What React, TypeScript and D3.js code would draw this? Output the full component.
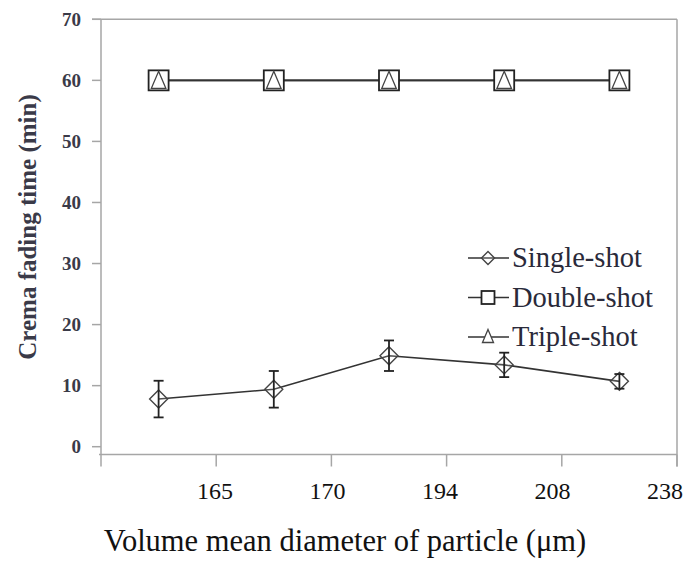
import React, { useEffect, useRef } from 'react';
import * as d3 from 'd3';

// particle size classes (µm)
const categories = ['165', '170', '194', '208', '238'];
const singleShot = [7.8, 9.4, 14.9, 13.4, 10.7];
const singleErr = [3.0, 3.0, 2.5, 2.0, 1.2];
const doubleShot = [60, 60, 60, 60, 60];
const tripleShot = [60, 60, 60, 60, 60];
const yTicks = [0, 10, 20, 30, 40, 50, 60, 70];
const legendItems = ['Single-shot', 'Double-shot', 'Triple-shot'];

const W = 694;
const H = 585;
const SERIF = '"Liberation Serif", "Times New Roman", serif';

const App = () => {
    const ref = useRef<SVGSVGElement>(null);

    useEffect(() => {
        const svg = d3.select(ref.current);
        svg.selectAll('*').remove();

        const left = 101, right = 677, top = 19.3, zeroY = 446.7, axisY = 454.5;
        const x = d3.scaleBand().domain(categories).range([left, right]);
        const y = d3.scaleLinear().domain([0, 70]).range([zeroY, top]);
        // the category labels sit a bit off the tick marks in the original
        const xLab = d3.scalePoint().domain(categories).range([215, 665]);
        const cx = (c: string) => (x(c) as number) + x.bandwidth() / 2;
        const gray = '#a6a6a6';
        const ink = '#222';

        // frame
        svg.append('line').attr('x1', left - 9).attr('x2', right).attr('y1', top).attr('y2', top)
            .attr('stroke', gray).attr('stroke-width', 1.5);
        svg.append('line').attr('x1', right).attr('x2', right).attr('y1', top).attr('y2', axisY + 12)
            .attr('stroke', gray).attr('stroke-width', 1.5);
        svg.append('line').attr('x1', left).attr('x2', left).attr('y1', top).attr('y2', axisY)
            .attr('stroke', gray).attr('stroke-width', 1.5);
        svg.append('line').attr('x1', left - 2).attr('x2', right).attr('y1', axisY).attr('y2', axisY)
            .attr('stroke', gray).attr('stroke-width', 1.5);

        // y ticks + labels
        yTicks.forEach(t => {
            svg.append('line').attr('x1', left - 9).attr('x2', left).attr('y1', y(t)).attr('y2', y(t))
                .attr('stroke', gray).attr('stroke-width', 1.5);
            svg.append('text').attr('x', 81).attr('y', y(t)).attr('dy', '0.35em')
                .attr('text-anchor', 'end').attr('font-family', SERIF).attr('font-weight', 'bold')
                .attr('font-size', 19).attr('fill', '#3a3a48').text(t);
        });

        // x ticks at band edges
        const edges = categories.map(c => x(c) as number).concat([right]);
        edges.forEach(e => {
            svg.append('line').attr('x1', e).attr('x2', e).attr('y1', axisY).attr('y2', axisY + 12)
                .attr('stroke', gray).attr('stroke-width', 1.5);
        });
        categories.forEach(c => {
            svg.append('text').attr('x', xLab(c) as number).attr('y', 499)
                .attr('text-anchor', 'middle').attr('font-family', SERIF)
                .attr('font-size', 24).attr('fill', '#111').text(c);
        });

        // axis titles
        svg.append('text').attr('x', 345).attr('y', 551).attr('text-anchor', 'middle')
            .attr('font-family', SERIF).attr('font-size', 30.5).attr('fill', '#111')
            .text('Volume mean diameter of particle (μm)');
        svg.append('text').attr('transform', 'translate(36,227) rotate(-90)')
            .attr('text-anchor', 'middle').attr('font-family', SERIF).attr('font-weight', 'bold')
            .attr('font-size', 25).attr('fill', '#3a3a48').text('Crema fading time (min)');

        const line = d3.line<number>()
            .x((d, i) => cx(categories[i]))
            .y(d => y(d));

        const diamond = (g: any, px: number, py: number, r: number) =>
            g.append('path').attr('d', `M${px},${py - r}L${px + r},${py}L${px},${py + r}L${px - r},${py}Z`)
                .attr('fill', 'white').attr('fill-opacity', 0.15).attr('stroke', '#444').attr('stroke-width', 1.4);
        const square = (g: any, px: number, py: number, r: number) =>
            g.append('rect').attr('x', px - r).attr('y', py - r).attr('width', 2 * r).attr('height', 2 * r)
                .attr('fill', 'white').attr('stroke', ink).attr('stroke-width', 1.8);
        const triangle = (g: any, px: number, py: number, r: number) =>
            g.append('path').attr('d', `M${px},${py - r}L${px + r * 0.85},${py + r}L${px - r * 0.85},${py + r}Z`)
                .attr('fill', 'white').attr('stroke', '#444').attr('stroke-width', 1.3);

        // double / triple shot
        svg.append('path').datum(doubleShot).attr('d', line).attr('fill', 'none')
            .attr('stroke', '#333').attr('stroke-width', 1.6);
        svg.append('path').datum(tripleShot).attr('d', line).attr('fill', 'none')
            .attr('stroke', '#333').attr('stroke-width', 1.6);
        doubleShot.forEach((v, i) => square(svg, cx(categories[i]), y(v), 10));
        tripleShot.forEach((v, i) => triangle(svg, cx(categories[i]), y(tripleShot[i]) - 0.5, 8.5));

        // single shot
        svg.append('path').datum(singleShot).attr('d', line).attr('fill', 'none')
            .attr('stroke', '#333').attr('stroke-width', 1.6);
        singleShot.forEach((v, i) => {
            const px = cx(categories[i]);
            diamond(svg, px, y(v), 9);
            const lo = y(v - singleErr[i]);
            const hi = y(v + singleErr[i]);
            svg.append('line').attr('x1', px).attr('x2', px).attr('y1', hi).attr('y2', lo)
                .attr('stroke', ink).attr('stroke-width', 1.8);
            [lo, hi].forEach(e => svg.append('line').attr('x1', px - 5).attr('x2', px + 5)
                .attr('y1', e).attr('y2', e).attr('stroke', ink).attr('stroke-width', 1.8));
        });

        // legend
        const legendY = d3.scalePoint().domain(legendItems).range([258, 337]);
        legendItems.forEach((name, i) => {
            const ly = legendY(name) as number;
            svg.append('line').attr('x1', 468).attr('x2', 509).attr('y1', ly).attr('y2', ly)
                .attr('stroke', '#333').attr('stroke-width', 1.5);
            if (i === 0) diamond(svg, 488, ly, 6.5);
            if (i === 1) square(svg, 488, ly, 6.5);
            if (i === 2) triangle(svg, 488, ly - 1, 6.5);
            svg.append('text').attr('x', 512).attr('y', ly).attr('dy', '0.33em')
                .attr('font-family', SERIF).attr('font-size', 28.5).attr('fill', '#2a2a3a').text(name);
        });
    }, []);

    return (
        <svg ref={ref} width={W} height={H}
            style={{ position: 'absolute', left: 0, top: 0, background: 'white' }}></svg>
    );
};

export default App;
